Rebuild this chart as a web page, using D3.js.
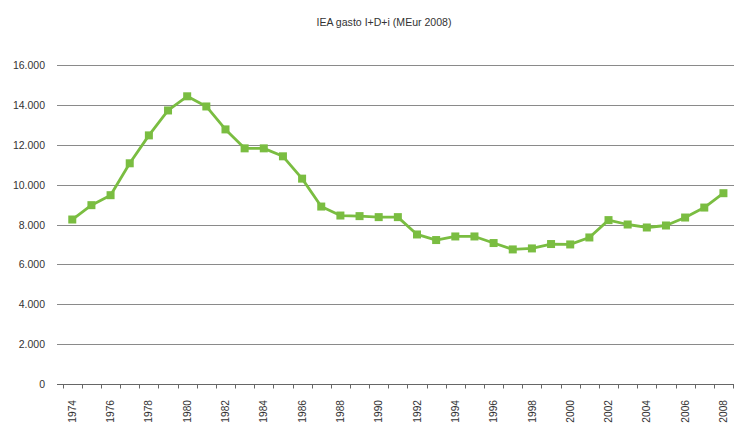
<!DOCTYPE html>
<html>
<head>
<meta charset="utf-8">
<script src="https://cdn.jsdelivr.net/npm/d3@7"></script>
<style>
  html, body { margin: 0; padding: 0; background: #fff; }
  svg { display: block; font-family: "Liberation Sans", Arial, sans-serif; }
</style>
</head>
<body>
<svg id="chart" width="737" height="426"></svg>
<script>
// Annual IEA R&D+i spending, million euros (2008 prices)
const years = d3.range(1974, 2009);
const spending = [
  8250, 8970, 9470, 11070, 12470, 13720, 14430, 13920, 12770, 11820,
  11820, 11420, 10300, 8900, 8450, 8420, 8370, 8370, 7500, 7220,
  7400, 7400, 7070, 6750, 6800, 7020, 7000, 7350, 8220, 8000,
  7850, 7950, 8350, 8850, 9570
];
const yTicks = [0, 2000, 4000, 6000, 8000, 10000, 12000, 14000, 16000];
const title = "IEA gasto I+D+i (MEur 2008)";

const svg = d3.select("#chart");
const green = "#7abd41";
const fmt = d => d3.format(",")(d).replace(/,/g, ".");

const x = d3.scaleBand().domain(years).range([62.7, 733]);
const y = d3.scaleLinear().domain([0, 16000]).range([384, 65]);

// Title
svg.append("text")
  .attr("transform", "translate(384,26) scale(0.92,1)")
  .attr("text-anchor", "middle")
  .attr("font-size", 11.5)
  .attr("fill", "#333")
  .text(title);

// Horizontal gridlines
svg.append("g").selectAll("line")
  .data(yTicks)
  .join("line")
  .attr("x1", 57).attr("x2", 734)
  .attr("y1", d => Math.round(y(d)) + 0.5)
  .attr("y2", d => Math.round(y(d)) + 0.5)
  .attr("stroke", d => d === 0 ? "#666" : "#8a8a8a")
  .attr("stroke-width", 1);

// Y labels
svg.append("g").selectAll("text")
  .data(yTicks)
  .join("text")
  .attr("x", 45)
  .attr("y", d => y(d) + 4)
  .attr("text-anchor", "end")
  .attr("font-size", 10.5)
  .attr("fill", "#333")
  .text(fmt);

// X ticks at category boundaries
const bounds = years.map(d => x(d)).concat([x.range()[1]]);
svg.append("g").selectAll("line")
  .data(bounds)
  .join("line")
  .attr("x1", d => Math.round(d) + 0.5).attr("x2", d => Math.round(d) + 0.5)
  .attr("y1", 384).attr("y2", 388.5)
  .attr("stroke", "#666");

// X labels, every other year
svg.append("g").selectAll("text")
  .data(years.filter(d => (d - 1974) % 2 === 0))
  .join("text")
  .attr("transform", d => `translate(${x(d) + x.bandwidth() / 2 + 3.6},400) rotate(-90)`)
  .attr("text-anchor", "end")
  .attr("font-size", 10.2)
  .attr("fill", "#333")
  .text(d => d);

// Series line
const cx = (d, i) => x(years[i]) + x.bandwidth() / 2;
svg.append("path")
  .datum(spending)
  .attr("fill", "none")
  .attr("stroke", green)
  .attr("stroke-width", 2.8)
  .attr("stroke-linejoin", "round")
  .attr("d", d3.line().x(cx).y(d => y(d)));

// Square markers
svg.append("g").selectAll("rect")
  .data(spending)
  .join("rect")
  .attr("x", (d, i) => cx(d, i) - 4)
  .attr("y", d => y(d) - 4)
  .attr("width", 8).attr("height", 8)
  .attr("fill", green);
</script>
</body>
</html>
